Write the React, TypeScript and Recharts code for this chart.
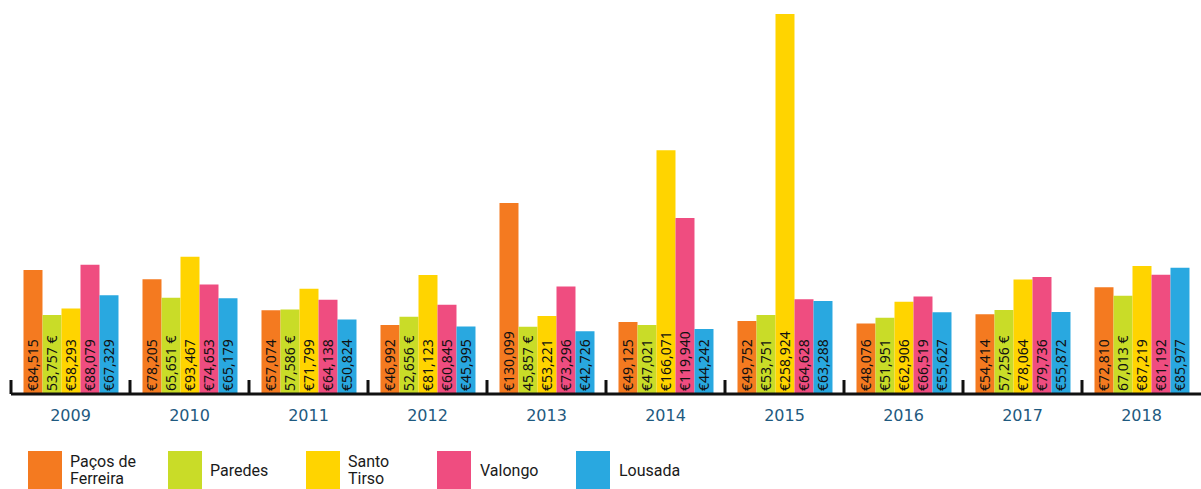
import { BarChart, Bar, XAxis, YAxis, LabelList } from 'recharts';

const years = ['2009', '2010', '2011', '2012', '2013', '2014', '2015', '2016', '2017', '2018'];

const pacosDeFerreira = [84515, 78205, 57074, 46992, 130099, 49125, 49752, 48076, 54414, 72810];
const paredes = [53757, 65651, 57586, 52656, 45857, 47021, 53751, 51951, 57256, 67013];
const santoTirso = [58293, 93467, 71799, 81123, 53221, 166071, 258924, 62906, 78064, 87219];
const valongo = [88079, 74653, 64138, 60845, 73296, 119940, 64628, 66519, 79736, 81192];
const lousada = [67329, 65179, 50824, 45995, 42726, 44242, 63288, 55627, 55872, 85977];

// years where the Paredes label puts the euro sign after the number
const paredesSuffixYears = ['2009', '2010', '2011', '2012', '2013', '2017', '2018'];

const WIDTH = 1201;
const HEIGHT = 489;
const LEFT = 11;
const BAND = (WIDTH - LEFT) / years.length;

const series = [
  { key: 'pacos', name: 'Paços de Ferreira', lines: ['Paços de', 'Ferreira'], color: '#f47a20', values: pacosDeFerreira, sx: 28, tx: 70 },
  { key: 'paredes', name: 'Paredes', lines: ['Paredes'], color: '#c9dc28', values: paredes, sx: 168, tx: 210 },
  { key: 'santo', name: 'Santo Tirso', lines: ['Santo', 'Tirso'], color: '#ffd400', values: santoTirso, sx: 306, tx: 348 },
  { key: 'valongo', name: 'Valongo', lines: ['Valongo'], color: '#ef4d80', values: valongo, sx: 437, tx: 480 },
  { key: 'lousada', name: 'Lousada', lines: ['Lousada'], color: '#29a8e0', values: lousada, sx: 576, tx: 619 },
];

const data = years.map((year, i) => {
  const row: Record<string, string | number> = { year };
  series.forEach((s) => {
    row[s.key] = s.values[i];
  });
  return row;
});

const fmt = (v: number) => v.toLocaleString('en-US');

const YearTick = ({ x, y, payload }: any) => {
  const half = payload?.offset || BAND / 2;
  return (
    <g>
      <line x1={x - half} x2={x - half} y1={y} y2={y - 14} stroke="#111" strokeWidth={3} />
      <text x={x} y={y + 27} textAnchor="middle" fill="#1f5a80" fontSize={16} fontFamily="DejaVu Sans">
        {payload.value}
      </text>
    </g>
  );
};

const makeLabel = (key: string) => (props: any) => {
  const { x, y, width, height, value, index } = props;
  const suffix = key === 'paredes' && paredesSuffixYears.includes(years[index]);
  const text = suffix ? `${fmt(value)} €` : `€${fmt(value)}`;
  return (
    <text
      transform={`translate(${x + width / 2}, ${y + height - 3}) rotate(-90)`}
      dominantBaseline="central"
      fontSize={14}
      fontFamily="Noto Sans"
      fill="#111"
    >
      {text}
    </text>
  );
};

export default function App() {
  return (
    <div style={{ position: 'absolute', left: 0, top: 0, width: WIDTH, height: HEIGHT, background: '#fff' }}>
      <BarChart
        width={WIDTH}
        height={HEIGHT}
        data={data}
        margin={{ top: 14, right: 0, left: LEFT, bottom: 0 }}
        barCategoryGap="10.5%"
        barGap={0}
      >
        <XAxis
          dataKey="year"
          height={95}
          tickLine={false}
          tickSize={0}
          tickMargin={0}
          axisLine={{ stroke: '#111', strokeWidth: 3 }}
          tick={<YearTick />}
          interval={0}
        />
        <YAxis hide domain={[0, 'dataMax']} />
        {series.map((s) => (
          <Bar key={s.key} dataKey={s.key} name={s.name} fill={s.color} isAnimationActive={false}>
            <LabelList dataKey={s.key} content={makeLabel(s.key)} />
          </Bar>
        ))}
      </BarChart>
      {series.map((s) => (
        <div key={s.key}>
          <div style={{ position: 'absolute', left: s.sx, top: 451, width: 34, height: 38, background: s.color }} />
          <div
            style={{
              position: 'absolute',
              left: s.tx,
              top: 470,
              transform: 'translateY(-50%)',
              fontFamily: 'Roboto',
              fontSize: 16,
              lineHeight: '17px',
              color: '#1a1a1a',
              whiteSpace: 'nowrap',
            }}
          >
            {s.lines.map((l) => (
              <div key={l}>{l}</div>
            ))}
          </div>
        </div>
      ))}
    </div>
  );
}
